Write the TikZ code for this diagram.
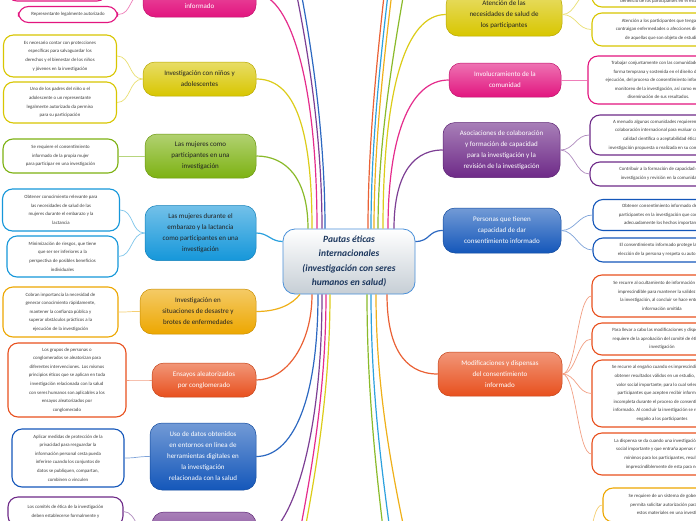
\documentclass[tikz,border=0pt]{standalone}
\usepackage{fontspec}
\setmainfont{Carlito}
\usepackage{tikz}
\usetikzlibrary{calc}
\definecolor{pinkc}{HTML}{E2157F}
\definecolor{yellowc}{HTML}{D8C600}
\definecolor{greenc}{HTML}{7DB212}
\definecolor{skyc}{HTML}{1597DA}
\definecolor{amberc}{HTML}{EDA700}
\definecolor{redc}{HTML}{E8501E}
\definecolor{bluec}{HTML}{1457BA}
\definecolor{purplec}{HTML}{6E2A88}
\definecolor{hubline}{HTML}{4A90D9}
\definecolor{hubgrey}{HTML}{C6CED5}
\definecolor{hubink}{HTML}{1B365D}
\definecolor{inkc}{HTML}{222222}
\definecolor{leafink}{HTML}{3C3C3C}
\tikzset{
  hubbox/.style={draw=hubline,line width=0.8pt,top color=white,bottom color=hubgrey,rounded corners=12pt,
    align=center,inner sep=2pt,text=hubink,font=\fontsize{9.5}{14.5}\selectfont\bfseries\itshape},
  mainbox/.style={draw=#1!85!black,line width=0.5pt,top color=#1!60!white,bottom color=#1,rounded corners=12pt,
    align=center,inner sep=2pt,text=white,font=\fontsize{7}{11}\selectfont},
  leaf/.style={draw=#1,line width=1.1pt,fill=white,rounded corners=10pt,minimum width=140pt,
    align=center,inner sep=2pt,text=leafink,font=\fontsize{4.8}{8.6}\selectfont},
  conn/.style={draw=#1!90!white,line width=1.2pt},
  twig/.style={draw=#1!55!white,line width=0.7pt}
}
\begin{document}
\begin{tikzpicture}[x=1pt,y=-1pt]
\useasboundingbox (0,0) rectangle (696,520);
\clip (0,0) rectangle (696,520);
\fill[white] (0,0) rectangle (696,520);

\node[hubbox,minimum width=132pt,minimum height=65pt] (hub) at (349,261.5) {Pautas éticas\\internacionales\\(investigación con seres\\humanos en salud)};

% left branches
\node[mainbox=pinkc,minimum width=113pt,minimum height=46pt] (consent) at (199.5,-6) {\strut\\\strut\\informado};
\node[mainbox=yellowc,text=inkc,minimum width=113pt,minimum height=34pt] (kids) at (199.5,79) {Investigación con niños y\\adolescentes};
\node[mainbox=greenc,text=inkc,minimum width=111pt,minimum height=44pt] (women) at (200.5,156) {Las mujeres como\\participantes en una\\investigación};
\node[mainbox=skyc,text=inkc,minimum width=111pt,minimum height=55pt] (preg) at (200.5,233) {Las mujeres durante el\\embarazo y la lactancia\\como participantes en una\\investigación};
\node[mainbox=amberc,text=inkc,minimum width=116pt,minimum height=45pt] (disaster) at (198,311.5) {Investigación en\\situaciones de desastre y\\brotes de enfermedades};
\node[mainbox=redc,minimum width=104pt,minimum height=34pt] (cluster) at (204,380) {Ensayos aleatorizados\\por conglomerado};
\node[mainbox=bluec,minimum width=106pt,minimum height=67pt] (online) at (203,456.5) {Uso de datos obtenidos\\en entornos en línea de\\herramientas digitales en\\la investigación\\relacionada con la salud};
\node[mainbox=purplec,minimum width=104pt,minimum height=56pt] (ethics) at (204,540) {};

\node[leaf=pinkc,minimum width=100pt,minimum height=32pt] (consentA) at (57,-15) {};
\node[leaf=pinkc,minimum width=99pt,minimum height=16pt] (consentB) at (68,14.5) {Representante legalmente autorizado};
\node[leaf=yellowc,minimum width=113pt,minimum height=42pt] (kidsA) at (60,56) {Es necesario contar con protecciones\\específicas para salvaguardar los\\derechos y el bienestar de los niños\\y jóvenes en la investigación};
\node[leaf=yellowc,minimum width=113pt,minimum height=41pt] (kidsB) at (60,102.5) {Uno de los padres del niño o el\\adolescente o un representante\\legalmente autorizado da permiso\\para su participación};
\node[leaf=greenc,minimum width=115pt,minimum height=34pt] (womenA) at (60.5,156) {Se requiere el consentimiento\\informado de la propia mujer\\para participar en una investigación};
\node[leaf=skyc,minimum width=117pt,minimum height=42pt] (pregA) at (61,210) {Obtener conocimiento relevante para\\las necesidades de salud de las\\mujeres durante el embarazo y la\\lactancia};
\node[leaf=skyc,minimum width=111pt,minimum height=41pt] (pregB) at (62.5,256.5) {Minimización de riesgos, que tiene\\que ser ser inferiores a la\\perspectiva de posibles beneficios\\individuales};
\node[leaf=amberc,minimum width=115pt,minimum height=50pt] (disasterA) at (60.5,312) {Cobran importancia la necesidad de\\generar conocimiento rápidamente,\\mantener la confianza pública y\\superar obstáculos prácticos a la\\ejecución de la investigación};
\node[leaf=redc,minimum width=118pt,minimum height=74pt] (clusterA) at (67,380) {Los grupos de personas o\\conglomerados se aleatorizan para\\diferentes intervenciones. Los mismos\\principios éticos que se aplican en toda\\investigación relacionada con la salud\\con seres humanos son aplicables a los\\ensayos aleatorizados por\\conglomerado};
\node[leaf=bluec,minimum width=112pt,minimum height=58pt] (onlineA) at (68,458) {Aplicar medidas de protección de la\\privacidad para resguardar la\\información personal cesta pueda\\inferirse cuando los conjuntos de\\datos se publiquen, compartan,\\combinen o vinculen};
\node[leaf=purplec,minimum width=115pt,minimum height=29pt] (ethicsA) at (65.5,511.5) {Los comités de ética de la investigación\\deben establecerse formalmente y};

% right branches
\node[mainbox=yellowc,text=inkc,minimum width=116pt,minimum height=43pt] (care) at (504,14.5) {Atención de las\\necesidades de salud de\\los participantes};
\node[mainbox=pinkc,minimum width=112pt,minimum height=34pt] (community) at (505,80) {Involucramiento de la\\comunidad};
\node[mainbox=purplec,minimum width=117pt,minimum height=55pt] (partners) at (501.5,150) {Asociaciones de colaboración\\y formación de capacidad\\para la investigación y la\\revisión de la investigación};
\node[mainbox=bluec,minimum width=118pt,minimum height=45pt] (capable) at (502,230.5) {Personas que tienen\\capacidad de dar\\consentimiento informado};
\node[mainbox=redc,minimum width=124pt,minimum height=44pt] (changes) at (500,374) {Modificaciones y dispensas\\del consentimiento\\informado};

\node[leaf=yellowc,minimum height=31pt] (careA) at (662,-8.5) {\strut\\\strut\\beneficio de los participantes en el estudio};
\node[leaf=yellowc,minimum height=33pt] (careB) at (662,29.5) {Atención a los participantes que tengan o\\contraigan enfermedades o afecciones distintas\\de aquellas que son objeto de estudio};
\node[leaf=pinkc,minimum width=141pt,minimum height=48pt] (communityA) at (658.5,80) {Trabajar conjuntamente con las comunidades de\\forma temprana y sostenida en el diseño de la\\ejecución, del proceso de consentimiento informado y\\monitoreo de la investigación, así como en la\\diseminación de sus resultados.};
\node[leaf=purplec,minimum height=40pt] (partnersA) at (660,135) {A menudo algunas comunidades requieren de la\\colaboración internacional para evaluar con la\\calidad científica o aceptabilidad ética\\investigación propuesta o realizada en su comunidad};
\node[leaf=purplec,minimum height=24pt] (partnersB) at (660,174) {Contribuir a la formación de capacidad de\\investigación y revisión en la comunidad};
\node[leaf=bluec,minimum height=31pt] (capableA) at (663,215) {Obtener consentimiento informado de los\\participantes en la investigación que conocen\\adecuadamente los hechos importantes};
\node[leaf=bluec,minimum height=24pt] (capableB) at (663,250) {El consentimiento informado protege la libre\\elección de la persona y respeta su autonomía};
\node[leaf=redc,minimum height=42pt] (changesA) at (662,296) {Se recurre al ocultamiento de información cuando\\imprescindible para mantener la validez de la\\la investigación, al concluir se hace entrega\\información omitida};
\node[leaf=redc,minimum height=32pt] (changesB) at (662,339) {Para llevar a cabo las modificaciones y dispensas se\\requiere de la aprobación del comité de ética de la\\investigación};
\node[leaf=redc,minimum height=67pt] (changesC) at (662,393.5) {Se recurre al engaño cuando es imprescindible para\\obtener resultados válidos en un estudio, con un\\valor social importante; para lo cual selecciona\\participantes que acepten recibir información\\incompleta durante el proceso de consentimiento\\informado. Al concluir la investigación se revela el\\engaño a los participantes};
\node[leaf=redc,minimum height=42pt] (changesD) at (662,454) {La dispensa se da cuando una investigación tiene\\social importante y que entraña apenas riesgos\\mínimos para los participantes, resulta\\imprescindiblemente de esta para no};
\node[leaf=amberc,minimum height=34pt] (tissueA) at (673,505) {Se requiere de un sistema de gobernanza que\\permita solicitar autorización para el uso de\\estos materiales en una investigación};

% branches that run off the page
\coordinate (offLP) at (270,-120);
\coordinate (offLB) at (276,-120);
\coordinate (offRR) at (392,-80);
\coordinate (offRB) at (396,-80);
\coordinate (offRA) at (400,-80);
\coordinate (offRG) at (416,-80);
\coordinate (offBP) at (285,620);
\coordinate (offBY) at (290,620);
\coordinate (offBG) at (392,620);
\coordinate (offBL) at (400,620);
\coordinate (offBA) at (420,620);
\coordinate (tissueE) at (565,575);

% hub connectors
\draw[conn=greenc] ([xshift=-41pt]hub.north) .. controls +(0,-50) and +(30,0) .. (women.east);
\draw[conn=yellowc] ([xshift=-37pt]hub.north) .. controls +(0,-110) and +(35,0) .. (kids.east);
\draw[conn=pinkc] ([xshift=-32pt]hub.north) .. controls +(0,-160) and +(30,0) .. (consent.east);
\draw[conn=purplec] ([xshift=-27pt]hub.north) .. controls +(0,-150) and +(15,60) .. (offLP);
\draw[conn=bluec] ([xshift=-24pt]hub.north) .. controls +(0,-150) and +(15,60) .. (offLB);
\draw[conn=redc] ([xshift=19pt]hub.north) .. controls +(0,-120) and +(-5,60) .. (offRR);
\draw[conn=skyc] ([xshift=22pt]hub.north) .. controls +(0,-120) and +(-5,60) .. (offRB);
\draw[conn=amberc] ([xshift=25pt]hub.north) .. controls +(0,-120) and +(-5,60) .. (offRA);
\draw[conn=greenc] ([xshift=29pt]hub.north) .. controls +(0,-120) and +(-8,60) .. (offRG);
\draw[conn=yellowc] ([xshift=34pt]hub.north) .. controls +(0,-140) and +(-40,0) .. (care.west);
\draw[conn=pinkc] ([xshift=39pt]hub.north) .. controls +(0,-90) and +(-40,0) .. (community.west);
\draw[conn=purplec] ([xshift=45pt]hub.north) .. controls +(0,-45) and +(-35,0) .. (partners.west);
\draw[conn=skyc] ([yshift=20pt]hub.west) .. controls +(-12,0) and +(12,0) .. (preg.east);
\draw[conn=bluec] ([yshift=20pt]hub.east) .. controls +(15,0) and +(-15,0) .. (capable.west);
\draw[conn=amberc] ([xshift=-49pt]hub.south) .. controls +(-8,10) and +(22,0) .. (disaster.east);
\draw[conn=redc] ([xshift=-37pt]hub.south) .. controls +(0,50) and +(30,0) .. (cluster.east);
\draw[conn=bluec] ([xshift=-31pt]hub.south) .. controls +(0,110) and +(35,0) .. (online.east);
\draw[conn=purplec] ([xshift=-27pt]hub.south) .. controls +(0,160) and +(30,0) .. (ethics.east);
\draw[conn=pinkc] ([xshift=-23pt]hub.south) .. controls +(0,150) and +(5,-60) .. (offBP);
\draw[conn=yellowc] ([xshift=-19pt]hub.south) .. controls +(0,150) and +(5,-60) .. (offBY);
\draw[conn=greenc] ([xshift=18pt]hub.south) .. controls +(0,150) and +(-2,-60) .. (offBG);
\draw[conn=skyc] ([xshift=22pt]hub.south) .. controls +(0,150) and +(-2,-60) .. (offBL);
\draw[conn=amberc] ([xshift=27pt]hub.south) .. controls +(0,150) and +(-4,-60) .. (offBA);
\draw[conn=redc] ([xshift=38pt]hub.south) .. controls +(0,50) and +(-35,0) .. (changes.west);

% leaf twigs
\foreach \m/\l/\c in {consent/consentA/pinkc,consent/consentB/pinkc,kids/kidsA/yellowc,kids/kidsB/yellowc,
  women/womenA/greenc,preg/pregA/skyc,preg/pregB/skyc,disaster/disasterA/amberc,cluster/clusterA/redc,
  online/onlineA/bluec,ethics/ethicsA/purplec}
  \draw[twig=\c] (\m.west) .. controls +(-14,0) and +(14,0) .. (\l.east);
\foreach \m/\l/\c in {care/careA/yellowc,care/careB/yellowc,community/communityA/pinkc,
  partners/partnersA/purplec,partners/partnersB/purplec,capable/capableA/bluec,capable/capableB/bluec,
  changes/changesA/redc,changes/changesB/redc,changes/changesC/redc,changes/changesD/redc}
  \draw[twig=\c] (\m.east) .. controls +(14,0) and +(-14,0) .. (\l.west);
\draw[twig=amberc] (tissueE) .. controls +(30,0) and +(-15,0) .. (tissueA.west);
\end{tikzpicture}
\end{document}
